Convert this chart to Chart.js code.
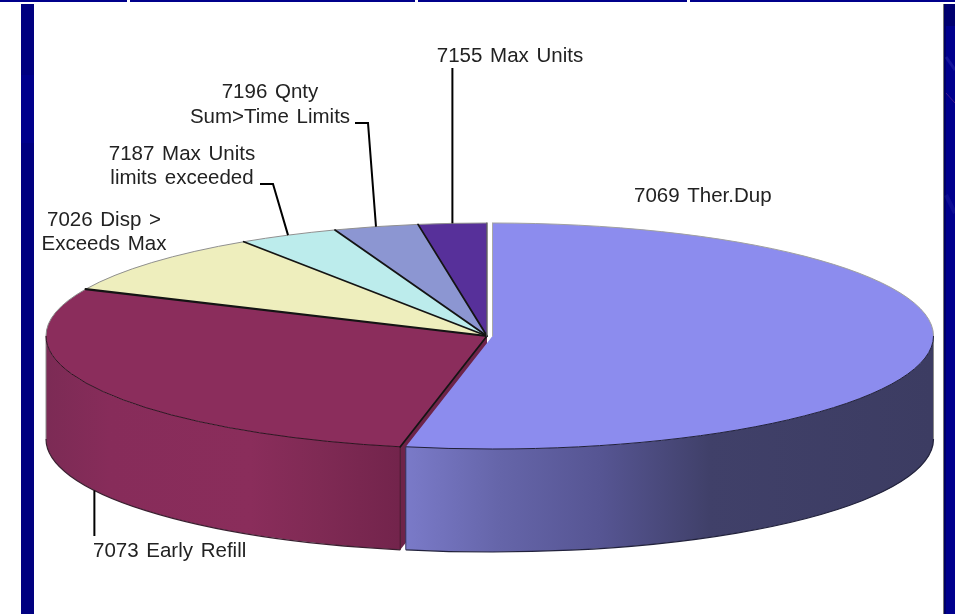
<!DOCTYPE html>
<html>
<head>
<meta charset="utf-8">
<style>
html,body{margin:0;padding:0;background:#fff;overflow:hidden}
canvas{display:block;filter:blur(0.35px)}
</style>
<script src="https://cdn.jsdelivr.net/npm/chart.js@4/dist/chart.umd.min.js"></script>
</head>
<body>
<canvas id="c" width="955" height="614"></canvas>
<script>
const categories = ['7069 Ther.Dup','7073 Early Refill','7026 Disp > Exceeds Max','7187 Max Units limits exceeded','7196 Qnty Sum>Time Limits','7155 Max Units'];
const shares = [53.15,28.65,8.9,3.7,3.1,2.5];
const topColors = ['#8c8cee','#8b2d5c','#eeeebd','#bcecec','#8c96d2','#57309a'];
const labelLines = [['7069 Ther.Dup'],['7073 Early Refill'],['7026 Disp >','Exceeds Max'],['7187 Max Units','limits exceeded'],['7196 Qnty','Sum>Time Limits'],['7155 Max Units']];

const CX = 487, CY = 336, RX = 441, RY = 113, DEPTH = 103;
const PULL = 5.5;
const labelSpots = [
  {x:634,y:202,a:'left',dy:24},{x:93,y:557,a:'left',dy:24},
  {x:104,y:226,a:'center',dy:24},{x:182,y:160,a:'center',dy:24},
  {x:270,y:98,a:'center',dy:25},{x:510,y:62,a:'center',dy:24}
];
const leaders = {
  5:{pts:[[null,68]],side:false},
  4:{pts:[[355,123],[368,123]],side:false},
  3:{pts:[[260,184],[273,184]],side:false},
  1:{pts:[[null,536]],side:true}
};
const wallStops = {
  0:[[407,'#7a7ac8'],[500,'#6565a9'],[600,'#565593'],[710,'#404069'],[932,'#3c3c62']],
  1:[[46,'#7c2b55'],[110,'#872c5a'],[250,'#8a2d5b'],[320,'#7f2a54'],[399,'#73244c']]
};

function geom(chart){
  const arcs = chart.getDatasetMeta(0).data;
  const ref = arcs[1];
  const r = ref.outerRadius;
  const sx = RX / r, sy = RY / r;
  const ctrs = arcs.map(a=>({x: CX + (a.x-ref.x)*sx, y: CY}));
  return {arcs,ref,r,sx,sy,ctrs};
}
function applyXf(ctx,g){
  ctx.translate(CX,CY); ctx.scale(g.sx,g.sy); ctx.translate(-g.ref.x,-g.ref.y);
}
function wallFill(ctx,i){
  const g = ctx.createLinearGradient(46,0,932,0);
  wallStops[i].forEach(s=>g.addColorStop((s[0]-46)/886,s[1]));
  return g;
}
function sideWall(ctx,g,i,a0,a1,fill,edge){
  const c = g.ctrs[i];
  ctx.beginPath();
  ctx.ellipse(c.x,c.y,RX,RY,0,a0,a1,false);
  ctx.ellipse(c.x,c.y+DEPTH,RX,RY,0,a1,a0,true);
  ctx.closePath();
  ctx.fillStyle = fill; ctx.fill();
  ctx.beginPath();
  ctx.ellipse(c.x,c.y+DEPTH,RX,RY,0,a1,a0,true);
  ctx.strokeStyle = edge; ctx.lineWidth = 1.2; ctx.stroke();
}
function streak(ctx,x0,y0,x1,y1,col,w){
  ctx.strokeStyle=col; ctx.lineWidth=w;
  ctx.beginPath(); ctx.moveTo(x0,y0); ctx.lineTo(x1,y1); ctx.stroke();
}
const scene = {
  id:'scene',
  afterDatasetsUpdate(chart){
    const arcs = chart.getDatasetMeta(0).data, ref = arcs[1];
    arcs[0].x = ref.x + PULL * ref.outerRadius / RX;
  },
  beforeDraw(chart){
    const ctx = chart.ctx;
    ctx.save();
    ctx.fillStyle='#ffffff'; ctx.fillRect(0,0,955,614);
    ctx.fillStyle='#00008b';
    ctx.fillRect(0,0,955,2);
    ctx.fillStyle='#ffffff';
    [127,415,687].forEach(x=>ctx.fillRect(x,0,3,2));
    ctx.fillStyle='#000080'; ctx.fillRect(21,4,13,610);
    ctx.fillStyle='#00008c'; ctx.fillRect(21,75,13,68);
    ctx.fillStyle='#00008e'; ctx.fillRect(944,4,11,610);
    ctx.fillStyle='#000070'; ctx.fillRect(945,4,10,22);
    ctx.fillStyle='#000068'; ctx.fillRect(944,4,2,610);
    ctx.fillStyle='#777777'; ctx.fillRect(943,4,1,610);
    streak(ctx,946,57,955,70,'rgba(70,70,190,.3)',3);
    streak(ctx,946,93,955,103,'rgba(150,60,140,.45)',1);
    streak(ctx,946,195,955,213,'rgba(50,50,170,.25)',4);
    ctx.restore();
  },
  beforeDatasetsDraw(chart){
    const ctx = chart.ctx, g = geom(chart), a = g.arcs;
    ctx.save();
    const m = a[1], c1 = g.ctrs[1];
    const rim = [c1.x+RX*Math.cos(m.startAngle), c1.y+RY*Math.sin(m.startAngle)];
    ctx.beginPath();
    ctx.moveTo(c1.x,c1.y); ctx.lineTo(rim[0],rim[1]);
    ctx.lineTo(rim[0],rim[1]+DEPTH); ctx.lineTo(c1.x,c1.y+DEPTH); ctx.closePath();
    ctx.fillStyle='#6e2449'; ctx.fill();
    sideWall(ctx,g,1,m.startAngle,Math.PI,wallFill(ctx,1),'#3a2030');
    sideWall(ctx,g,0,0,a[0].endAngle,wallFill(ctx,0),'#22223c');
    const c0=g.ctrs[0];
    const bx=c0.x+RX*Math.cos(a[0].endAngle), by=c0.y+RY*Math.sin(a[0].endAngle);
    ctx.lineWidth=1;
    ctx.strokeStyle='#34345c'; ctx.beginPath(); ctx.moveTo(bx,by); ctx.lineTo(bx,by+DEPTH); ctx.stroke();
    ctx.strokeStyle='#3f1428'; ctx.beginPath(); ctx.moveTo(rim[0],rim[1]); ctx.lineTo(rim[0],rim[1]+DEPTH); ctx.stroke();
    ctx.strokeStyle='#8a8a8a';
    ctx.beginPath(); ctx.moveTo(c1.x-RX,CY); ctx.lineTo(c1.x-RX,CY+DEPTH); ctx.stroke();
    ctx.beginPath(); ctx.moveTo(c0.x+RX,CY); ctx.lineTo(c0.x+RX,CY+DEPTH); ctx.stroke();
    ctx.restore();
    ctx.save();
    applyXf(ctx,g);
  },
  afterDatasetsDraw(chart){
    const ctx = chart.ctx;
    ctx.restore();
    const g = geom(chart), a = g.arcs;
    ctx.save();
    const rimArc=(i,a0,a1,col)=>{
      const c=g.ctrs[i];
      ctx.strokeStyle=col; ctx.lineWidth=1;
      ctx.beginPath(); ctx.ellipse(c.x,c.y,RX,RY,0,a0,a1); ctx.stroke();
    };
    a.forEach((el,i)=>{
      if(i===0){ rimArc(0,el.startAngle,0,'#a0a0a0'); rimArc(0,0,el.endAngle,'#20203a'); }
      else if(i===1){ rimArc(1,el.startAngle,Math.PI,'#2c1420'); rimArc(1,Math.PI,el.endAngle,'#8a8a8a'); }
      else rimArc(i,el.startAngle,el.endAngle,'#909090');
    });
    const spoke=(i,ang,col,w)=>{
      const c=g.ctrs[i];
      ctx.strokeStyle=col; ctx.lineWidth=w; ctx.lineCap='round';
      ctx.beginPath();
      ctx.moveTo(c.x+RX*Math.cos(ang),c.y+RY*Math.sin(ang));
      ctx.lineTo(c.x,c.y); ctx.stroke();
    };
    spoke(1,a[1].startAngle,'#141414',1.8);
    for(let i=1;i<a.length-1;i++) spoke(i,a[i].endAngle,'#141414',i===1?2.2:1.8);
    spoke(a.length-1,a[a.length-1].endAngle,'#606060',1.4);
    spoke(0,a[0].startAngle,'#a8a8a8',1);
    ctx.strokeStyle='#000'; ctx.lineWidth=2; ctx.lineCap='butt'; ctx.lineJoin='miter';
    Object.keys(leaders).forEach(k=>{
      const i=+k, el=a[i], c=g.ctrs[i], L=leaders[k];
      const mid=(el.startAngle+el.endAngle)/2;
      const ex=c.x+RX*Math.cos(mid), ey=c.y+RY*Math.sin(mid)+(L.side?DEPTH:0);
      ctx.beginPath();
      L.pts.forEach((p,n)=>{const x=p[0]===null?ex:p[0]; n?ctx.lineTo(x,p[1]):ctx.moveTo(x,p[1]);});
      ctx.lineTo(ex,ey); ctx.stroke();
    });
    ctx.fillStyle='#222222';
    ctx.font='20.5px "Liberation Sans", Arial, sans-serif';
    ctx.wordSpacing='2px';
    labelLines.forEach((lines,i)=>{
      const s=labelSpots[i];
      ctx.textAlign=s.a; ctx.textBaseline='alphabetic';
      lines.forEach((t,n)=>ctx.fillText(t,s.x,s.y+n*s.dy));
    });
    ctx.restore();
  }
};
new Chart(document.getElementById('c'),{
  type:'pie',
  data:{labels:categories,datasets:[{
    data:shares,
    backgroundColor:topColors,
    borderWidth:0,
    clip:false
  }]},
  options:{
    responsive:false,animation:false,
    layout:{padding:0},
    plugins:{legend:{display:false},tooltip:{enabled:false}}
  },
  plugins:[scene]
});
</script>
</body>
</html>
